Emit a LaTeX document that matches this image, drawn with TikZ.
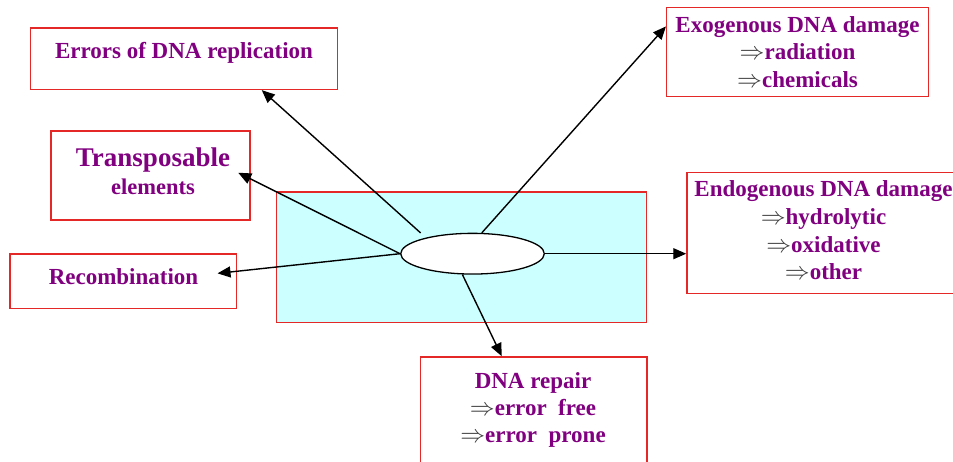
\documentclass[tikz,border=0pt]{standalone}
\usepackage{xcolor}
\usepackage{tikz}
\usepackage{fontspec}
\setmainfont{Liberation Serif}
\usetikzlibrary{shapes,shapes.geometric,arrows.meta}

\definecolor{dnapurple}{RGB}{128,0,128}
\definecolor{boxred}{RGB}{228,40,40}
\definecolor{corecyan}{RGB}{204,255,255}
\definecolor{impgray}{RGB}{60,60,60}
\newcommand{\impl}{{\color{impgray}$\Rightarrow$}}

\begin{document}
\begin{tikzpicture}[
    x=1pt, y=-1pt,
    cause/.style={rectangle, draw=boxred, line width=1.5pt, fill=white, inner sep=0pt},
    boxtext/.style={text=dnapurple, font=\bfseries\fontsize{23}{27.8}\selectfont, align=center, inner sep=0pt},
    pointer/.style={draw=black, line width=1.4pt, -{Triangle[length=13pt,width=11pt]}}
]
    \fill[white] (0,0) rectangle (953,462);
    \useasboundingbox (0,0) rectangle (953,462);
    \clip (0,0) rectangle (953,462);

    \node[cause, fill=corecyan, minimum width=370pt, minimum height=130.7pt] (core) at (461.7,257.3) {};
    \node[ellipse, draw, fill=white, line width=1.3pt, inner sep=0pt,
          minimum width=143.6pt, minimum height=40.7pt] (dna) at (472.5,253.7) {};

    \node[cause, minimum width=306.6pt, minimum height=61.3pt] (errors) at (184,58.7) {};
    \node[cause, minimum width=199pt, minimum height=89pt] (trans) at (150.5,175.5) {};
    \node[cause, minimum width=226.7pt, minimum height=54.3pt] (recomb) at (123.3,281.2) {};
    \node[cause, minimum width=261.6pt, minimum height=89.4pt] (exo) at (797.5,52) {};
    \node[cause, minimum width=271pt, minimum height=120.6pt] (endo) at (822.5,233) {};
    \node[cause, minimum width=226.5pt, minimum height=113pt] (repair) at (533.5,413.5) {};

    \node[boxtext, anchor=base] (errorsT) at (184,59) {Errors of DNA replication};
    \node[boxtext, anchor=north] (transT) at (153,147.6)
        {\fontsize{27}{27}\selectfont Transposable\\\fontsize{22.5}{27}\selectfont elements};
    \node[boxtext, anchor=base] (recombT) at (123.5,285) {Recombination};
    \node[boxtext, anchor=north] (exoT) at (797.5,16)
        {Exogenous DNA damage\\\impl radiation\\\impl chemicals};
    \node[boxtext, anchor=north] (endoT) at (823.5,180.3)
        {Endogenous DNA damage\\\impl hydrolytic\\\impl oxidative\\\impl other};
    \node[boxtext, anchor=north, font=\bfseries\fontsize{23}{27}\selectfont] (repairT) at (533,372)
        {DNA repair\\\impl error~~free\\\impl error~~prone};

    \draw[pointer, shorten <=7pt] (dna.161) -- (errors.-22.4);
    \draw[pointer, shorten >=-14pt] (dna.west) -- (trans.-2);
    \draw[pointer, shorten >=-20pt] (dna.west) -- (recomb.5.1);
    \draw[pointer] (dna.66) -- (exo.169.8);
    \draw[pointer] (dna.east) -- (dna.east -| endo.west);
    \draw[pointer] (dna.244) -- (repair.119.4);
\end{tikzpicture}
\end{document}
